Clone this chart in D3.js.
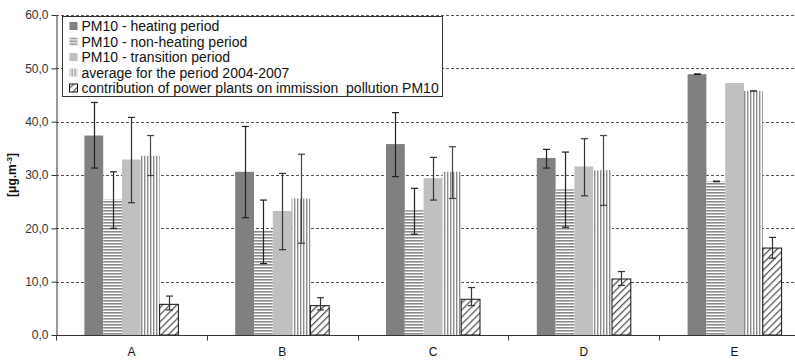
<!DOCTYPE html>
<html lang="en">
<head>
<meta charset="utf-8">
<script src="https://cdn.jsdelivr.net/npm/d3@7"></script>
<style>
  body { margin: 0; background: #fff; }
  svg { display: block; font-family: "Liberation Sans", Arial, sans-serif; }
</style>
</head>
<body>
<script>
  // data
  const categories = ["A", "B", "C", "D", "E"];
  const seriesNames = [
    "PM10 - heating period",
    "PM10 - non-heating period",
    "PM10 - transition period",
    "average for the period 2004-2007",
    "contribution of power plants on immission  pollution PM10"
  ];
  const heating      = [37.4, 30.6, 35.8, 33.2, 48.9];
  const heatingHi    = [43.6, 39.1, 41.7, 34.8, 48.95];
  const heatingLo    = [31.3, 22.0, 29.7, 31.3, 48.85];
  const nonHeating   = [25.4, 19.5, 23.4, 27.3, 28.8];
  const nonHeatingHi = [30.6, 25.3, 27.5, 34.3, 28.85];
  const nonHeatingLo = [20.0, 13.4, 18.9, 20.2, 28.75];
  const transition   = [32.9, 23.25, 29.4, 31.6, 47.25];
  const transitionHi = [40.8, 30.3, 33.3, 36.8, null];
  const transitionLo = [24.8, 16.0, 25.3, 26.1, null];
  const average      = [33.6, 25.6, 30.6, 30.9, 45.75];
  const averageHi    = [37.4, 33.9, 35.3, 37.4, 45.8];
  const averageLo    = [29.9, 17.2, 25.6, 24.3, 45.7];
  const contribution   = [5.75, 5.5, 6.7, 10.5, 16.3];
  const contributionHi = [7.3, 7.0, 8.9, 11.9, 18.3];
  const contributionLo = [4.7, 4.7, 5.5, 9.3, 14.4];
  const yTicks = [0, 10, 20, 30, 40, 50, 60];

  const series = [
    { name: seriesNames[0], vals: heating, hi: heatingHi, lo: heatingLo, fill: "#808080", stroke: "none", err: "#222" },
    { name: seriesNames[1], vals: nonHeating, hi: nonHeatingHi, lo: nonHeatingLo, fill: "url(#hstripe)", stroke: "none", err: "#222" },
    { name: seriesNames[2], vals: transition, hi: transitionHi, lo: transitionLo, fill: "#c0c0c0", stroke: "none", err: "#333" },
    { name: seriesNames[3], vals: average, hi: averageHi, lo: averageLo, fill: "url(#vstripe)", stroke: "none", err: "#444" },
    { name: seriesNames[4], vals: contribution, hi: contributionHi, lo: contributionLo, fill: "url(#hatch)", stroke: "#111", err: "#333" }
  ];

  const w = 795, h = 363;
  const plotLeft = 56, plotTop = 15, plotBottom = 335;
  const band = 150.8;

  const svg = d3.select("body").append("svg").attr("width", w).attr("height", h);

  const defs = svg.append("defs");
  const hs = defs.append("pattern").attr("id", "hstripe").attr("patternUnits", "userSpaceOnUse")
    .attr("width", 6).attr("height", 3);
  hs.append("rect").attr("width", 6).attr("height", 3).attr("fill", "#fff");
  hs.append("rect").attr("y", 0).attr("width", 6).attr("height", 1.6).attr("fill", "#8a8a8a");

  const vs = defs.append("pattern").attr("id", "vstripe").attr("patternUnits", "userSpaceOnUse")
    .attr("width", 3).attr("height", 6);
  vs.append("rect").attr("width", 3).attr("height", 6).attr("fill", "#fff");
  vs.append("rect").attr("x", 0).attr("width", 1.4).attr("height", 6).attr("fill", "#8a8a8a");

  const ht = defs.append("pattern").attr("id", "hatch").attr("patternUnits", "userSpaceOnUse")
    .attr("width", 5).attr("height", 5).attr("patternTransform", "rotate(45)");
  ht.append("rect").attr("width", 5).attr("height", 5).attr("fill", "#fff");
  ht.append("rect").attr("x", 0).attr("width", 1.3).attr("height", 5).attr("fill", "#555");

  const xScale = d3.scaleBand().domain(categories).range([plotLeft, plotLeft + band * categories.length]);
  const inner = d3.scaleBand().domain(d3.range(series.length)).range([0, band])
    .paddingInner(0).paddingOuter(1.51);
  const yScale = d3.scaleLinear().domain([0, 60]).range([plotBottom, plotTop]);

  // grid
  svg.append("g").selectAll("line").data(yTicks.filter(t => t > 0)).enter().append("line")
    .attr("x1", plotLeft).attr("x2", w)
    .attr("y1", d => Math.round(yScale(d)) + 0.5).attr("y2", d => Math.round(yScale(d)) + 0.5)
    .attr("stroke", "#555").attr("stroke-width", 1).attr("stroke-dasharray", "3,2");

  // bars
  series.forEach((s, si) => {
    const g = svg.append("g");
    g.selectAll("rect").data(categories).enter().append("rect")
      .attr("x", c => xScale(c) + inner(si))
      .attr("y", (c, i) => yScale(s.vals[i]))
      .attr("width", inner.bandwidth())
      .attr("height", (c, i) => plotBottom - yScale(s.vals[i]))
      .attr("fill", s.fill)
      .attr("stroke", s.stroke)
      .attr("stroke-width", 1);
  });

  // error bars
  series.forEach((s, si) => {
    const g = svg.append("g").attr("stroke", s.err).attr("stroke-width", 1.2);
    categories.forEach((c, i) => {
      if (s.hi[i] == null) return;
      const cx = Math.round(xScale(c) + inner(si) + inner.bandwidth() / 2) + 0.5;
      g.append("line").attr("x1", cx).attr("x2", cx).attr("y1", yScale(s.hi[i])).attr("y2", yScale(s.lo[i]));
      g.append("line").attr("x1", cx - 3.5).attr("x2", cx + 3.5).attr("y1", yScale(s.hi[i])).attr("y2", yScale(s.hi[i]));
      g.append("line").attr("x1", cx - 3.5).attr("x2", cx + 3.5).attr("y1", yScale(s.lo[i])).attr("y2", yScale(s.lo[i]));
    });
  });

  // y axis
  const yAxis = d3.axisLeft(yScale).tickValues(yTicks).tickSize(5).tickSizeOuter(0)
    .tickFormat(d => d3.format(".1f")(d).replace(".", ","));
  const ya = svg.append("g").attr("transform", "translate(" + (plotLeft + 0.5) + ",0)").call(yAxis);
  ya.select(".domain").attr("stroke", "#333");
  ya.selectAll(".tick line").attr("stroke", "#333");
  ya.selectAll("text").attr("font-size", 12).attr("fill", "#333").attr("font-family", "Liberation Sans, Arial, sans-serif");

  // x axis
  const xa = svg.append("g").attr("transform", "translate(0," + (plotBottom + 0.5) + ")");
  xa.append("line").attr("x1", plotLeft).attr("x2", w).attr("stroke", "#333");
  xa.selectAll("line.tk").data(categories).enter().append("line").attr("class", "tk")
    .attr("x1", c => Math.round(xScale(c)) + 0.5).attr("x2", c => Math.round(xScale(c)) + 0.5)
    .attr("y1", 0).attr("y2", 5).attr("stroke", "#333");
  xa.selectAll("text").data(categories).enter().append("text")
    .attr("x", c => xScale(c) + band / 2).attr("y", 20)
    .attr("text-anchor", "middle").attr("font-size", 12).attr("fill", "#111")
    .text(c => c);

  // y label
  const yl = svg.append("text").attr("transform", "translate(16,175) rotate(-90)")
    .attr("text-anchor", "middle").attr("font-size", 12).attr("font-weight", "bold").attr("fill", "#111");
  yl.append("tspan").text("[μg.m");
  yl.append("tspan").attr("dy", -4).attr("font-size", 8).text("-3");
  yl.append("tspan").attr("dy", 4).text("]");

  // legend
  const lg = svg.append("g").attr("transform", "translate(62.5,16.5)");
  lg.append("rect").attr("width", 380).attr("height", 80).attr("fill", "#fff").attr("stroke", "#333");
  series.forEach((s, i) => {
    const yy = 10 + i * 15.5;
    lg.append("rect").attr("x", 7).attr("y", yy - 4.5).attr("width", 8).attr("height", 8)
      .attr("fill", s.fill).attr("stroke", i === 4 ? "#111" : "none");
    lg.append("text").attr("x", 19).attr("y", yy + 4.5).attr("font-size", 14).attr("fill", "#111")
      .text(s.name).style("white-space", "pre");
  });
</script>
</body>
</html>
